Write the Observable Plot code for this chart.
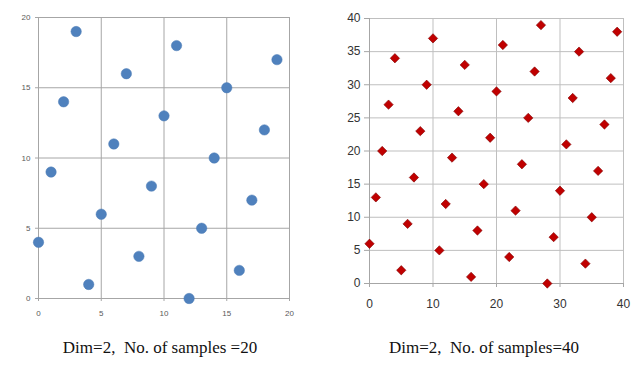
<!DOCTYPE html>
<html><head><meta charset="utf-8">
<script src="https://cdn.jsdelivr.net/npm/d3@7"></script>
<script src="https://cdn.jsdelivr.net/npm/@observablehq/plot@0.6"></script>
<style>
html,body{margin:0;padding:0;background:#fff;}
#wrap{position:relative;width:641px;height:370px;overflow:hidden;}
#p1{position:absolute;left:0;top:0;}
#p2{position:absolute;left:320px;top:0;}
.cap{position:absolute;top:338px;font-family:"Liberation Serif","DejaVu Serif",serif;font-size:17px;color:#111;white-space:nowrap;transform:translateX(-50%);}
</style></head>
<body><div id="wrap"><div id="p1"></div><div id="p2"></div>
<div class="cap" id="c1" style="left:160px">Dim=2,&nbsp; No. of samples =20</div>
<div class="cap" id="c2" style="left:484px">Dim=2,&nbsp; No. of samples=40</div>
</div>
<script>
// Left chart: 20 samples
const x20 = [0,1,2,3,4,5,6,7,8,9,10,11,12,13,14,15,16,17,18,19];
const y20 = [4,9,14,19,1,6,11,16,3,8,13,18,0,5,10,15,2,7,12,17];
const ticks20 = [0,5,10,15,20];
// Right chart: 40 samples
const x40 = [0,1,2,3,4,5,6,7,8,9,10,11,12,13,14,15,16,17,18,19,20,21,22,23,24,25,26,27,28,29,30,31,32,33,34,35,36,37,38,39];
const y40 = [6,13,20,27,34,2,9,16,23,30,37,5,12,19,26,33,1,8,15,22,29,36,4,11,18,25,32,39,0,7,14,21,28,35,3,10,17,24,31,38];
const xTicks40 = [0,10,20,30,40];
const yTicks40 = [0,5,10,15,20,25,30,35,40];

const d20 = x20.map((x,i)=>({x, y:y20[i]}));
const d40 = x40.map((x,i)=>({x, y:y40[i]}));

const p1 = Plot.plot({
  width:320, height:330,
  marginLeft:38, marginRight:31, marginTop:17, marginBottom:32,
  style:{fontFamily:"'Liberation Sans Narrow','Liberation Sans',sans-serif", fontSize:"8px", color:"#595959"},
  x:{domain:[0,20], ticks:ticks20, label:null},
  y:{domain:[0,20], ticks:ticks20, label:null},
  marks:[
    Plot.gridX(ticks20,{stroke:"#a6a6a6", strokeOpacity:1}),
    Plot.gridY(ticks20,{stroke:"#a6a6a6", strokeOpacity:1}),
    Plot.ruleY([0],{stroke:"#a6a6a6"}),
    Plot.ruleX([0],{stroke:"#a6a6a6"}),
    Plot.axisX(ticks20,{tickSize:3, tickPadding:9, stroke:"#a6a6a6", fill:"#595959", label:null}),
    Plot.axisY(ticks20,{tickSize:3, tickPadding:5, stroke:"#a6a6a6", fill:"#595959", label:null}),
    Plot.dot(d20,{x:"x", y:"y", r:5.2, fill:"#4f81bd", stroke:"#4a7ab5", strokeWidth:0.5})
  ]
});
document.getElementById("p1").append(p1);

const p2 = Plot.plot({
  width:321, height:330,
  marginLeft:49, marginRight:18, marginTop:18, marginBottom:47,
  style:{fontFamily:"'Liberation Sans',sans-serif", fontSize:"12px", color:"#404040"},
  x:{domain:[0,40], ticks:xTicks40, label:null},
  y:{domain:[0,40], ticks:yTicks40, label:null},
  marks:[
    Plot.gridX(xTicks40,{stroke:"#bfbfbf", strokeOpacity:1}),
    Plot.gridY(yTicks40,{stroke:"#bfbfbf", strokeOpacity:1}),
    Plot.ruleY([0],{stroke:"#a6a6a6"}),
    Plot.ruleX([0],{stroke:"#a6a6a6"}),
    Plot.axisX(xTicks40,{tickSize:4, tickPadding:12, stroke:"#a6a6a6", fill:"#333", label:null}),
    Plot.axisY(yTicks40,{tickSize:5, tickPadding:4, stroke:"#a6a6a6", fill:"#333", label:null}),
    Plot.dot(d40,{x:"x", y:"y", symbol:"diamond2", r:4.2, fill:"#c00000", stroke:"#7f0000", strokeWidth:0.6})
  ]
});
document.getElementById("p2").append(p2);
</script></body></html>
